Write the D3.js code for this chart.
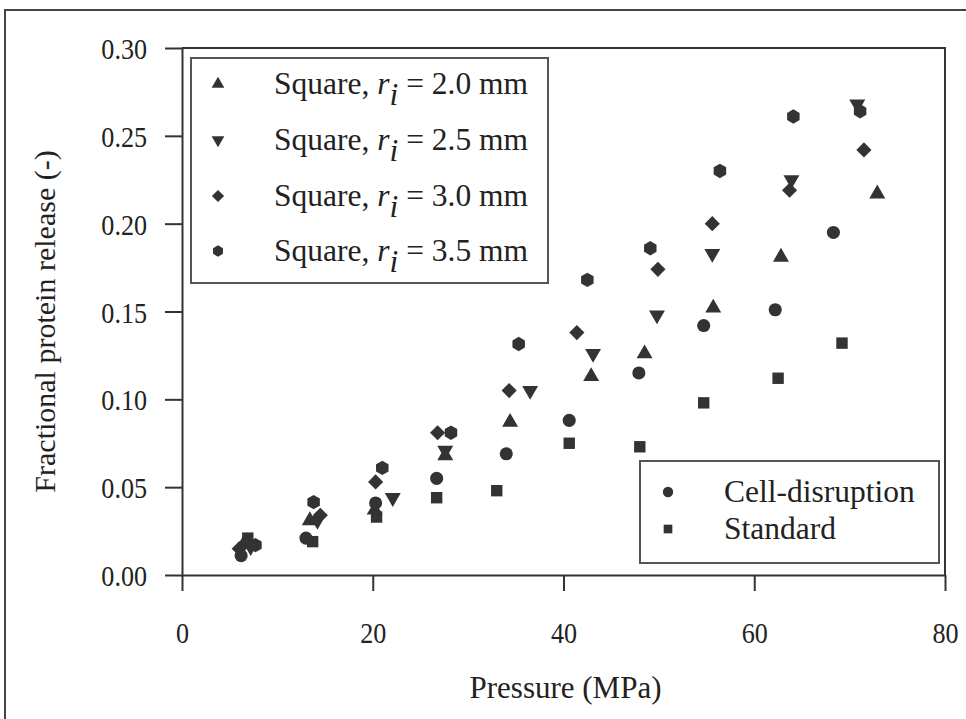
<!DOCTYPE html>
<html>
<head>
<meta charset="utf-8">
<script src="https://cdn.jsdelivr.net/npm/d3@7"></script>
<style>
  body { margin: 0; background: #fff; }
  svg { display: block; }
  text { font-family: "Liberation Serif", "Times New Roman", serif; fill: #222; }
</style>
</head>
<body>
<svg id="chart" width="966" height="719"></svg>
<script>
// pressure (MPa) at which each sample was taken, per series
const triUpX   = [6.5, 13.4, 20.2, 27.6, 34.4, 42.9, 48.5, 55.7, 62.8, 72.9];
const triUpY   = [0.018, 0.031, 0.037, 0.068, 0.087, 0.113, 0.126, 0.152, 0.181, 0.217];
const triDownX = [7.2, 14.2, 22.1, 27.6, 36.5, 43.1, 49.8, 55.6, 63.9, 70.8];
const triDownY = [0.016, 0.031, 0.044, 0.071, 0.105, 0.126, 0.148, 0.183, 0.225, 0.268];
const diamondX = [6.0, 14.5, 20.3, 26.8, 34.3, 41.4, 49.9, 55.6, 63.7, 71.5];
const diamondY = [0.015, 0.034, 0.053, 0.081, 0.105, 0.138, 0.174, 0.200, 0.219, 0.242];
const hexX     = [7.7, 13.8, 21.0, 28.2, 35.3, 42.5, 49.1, 56.4, 64.1, 71.1];
const hexY     = [0.017, 0.0415, 0.061, 0.081, 0.1315, 0.168, 0.186, 0.230, 0.261, 0.264];
const cellX    = [6.2, 13.0, 20.3, 26.7, 34.0, 40.6, 47.9, 54.7, 62.2, 68.3];
const cellY    = [0.011, 0.021, 0.041, 0.055, 0.069, 0.088, 0.115, 0.142, 0.151, 0.195];
const stdX     = [6.9, 13.7, 20.4, 26.7, 33.0, 40.6, 48.0, 54.7, 62.5, 69.2];
const stdY     = [0.021, 0.019, 0.033, 0.044, 0.048, 0.075, 0.073, 0.098, 0.112, 0.132];

const xTicks = [0, 20, 40, 60, 80];
const yTicks = [0, 0.05, 0.10, 0.15, 0.20, 0.25, 0.30];
const radii = ['2.0', '2.5', '3.0', '3.5'];
const otherLabels = ['Cell-disruption', 'Standard'];

const SERIF = '"Liberation Serif", "Times New Roman", serif';
const SQUEEZE = 0.87; // tick numbers in the original are a narrow, tall face

// custom symbol shapes, size = area
const triUp = { draw(c, s) {
  const a = Math.sqrt(s / (Math.sqrt(3) / 4)), h = a * Math.sqrt(3) / 2;
  c.moveTo(0, -h * 2 / 3); c.lineTo(a / 2, h / 3); c.lineTo(-a / 2, h / 3); c.closePath();
}};
const triDown = { draw(c, s) {
  const a = Math.sqrt(s / (Math.sqrt(3) / 4)), h = a * Math.sqrt(3) / 2;
  c.moveTo(0, h * 2 / 3); c.lineTo(a / 2, -h / 3); c.lineTo(-a / 2, -h / 3); c.closePath();
}};
const diamond = { draw(c, s) {
  const r = Math.sqrt(s / 2);
  c.moveTo(0, -r); c.lineTo(r, 0); c.lineTo(0, r); c.lineTo(-r, 0); c.closePath();
}};
const hexagon = { draw(c, s) {
  const r = Math.sqrt(s * 2 / (3 * Math.sqrt(3)));
  for (let i = 0; i < 6; i++) {
    const a = Math.PI / 3 * i - Math.PI / 2;
    if (i === 0) c.moveTo(r * Math.cos(a), r * Math.sin(a));
    else c.lineTo(r * Math.cos(a), r * Math.sin(a));
  }
  c.closePath();
}};

const series = [
  { xs: triUpX, ys: triUpY, type: triUp, size: 110, lsize: 70 },
  { xs: triDownX, ys: triDownY, type: triDown, size: 110, lsize: 70 },
  { xs: diamondX, ys: diamondY, type: diamond, size: 115, lsize: 75 },
  { xs: hexX, ys: hexY, type: hexagon, size: 135, lsize: 85 },
  { xs: cellX, ys: cellY, type: d3.symbolCircle, size: 135, lsize: 85 },
  { xs: stdX, ys: stdY, type: d3.symbolSquare, size: 130, lsize: 75 }
];

const svg = d3.select('#chart');
const MARK = '#333';

// outer frame
svg.append('rect')
  .attr('x', 5).attr('y', 10).attr('width', 980).attr('height', 730)
  .attr('fill', 'none').attr('stroke', '#444').attr('stroke-width', 2);

const x = d3.scaleLinear().domain([0, 80]).range([182, 945]);
const y = d3.scaleLinear().domain([0, 0.30]).range([575, 48]);

// plot box (top and right)
svg.append('path')
  .attr('d', `M${x(0)},${y(0.30)}H${x(80)}V${y(0)}`)
  .attr('fill', 'none').attr('stroke', '#333').attr('stroke-width', 2);

const gx = svg.append('g').attr('transform', `translate(0,${y(0)})`)
  .call(d3.axisBottom(x).tickValues(xTicks).tickSize(16).tickSizeOuter(0).tickFormat(d3.format('d')));
gx.selectAll('text').attr('x', 0).attr('y', 58).attr('dy', '0.35em')
  .attr('transform', `scale(${SQUEEZE},1)`);

const gy = svg.append('g').attr('transform', `translate(${x(0)},0)`)
  .call(d3.axisLeft(y).tickValues(yTicks).tickSize(17).tickSizeOuter(0).tickFormat(d3.format('.2f')));
gy.selectAll('text').attr('x', -35 / SQUEEZE).attr('dy', '0.35em')
  .attr('transform', `scale(${SQUEEZE},1)`);

[gx, gy].forEach(g => g.attr('font-family', SERIF).attr('font-size', 30));
svg.selectAll('.tick text').style('font-size', '30px');
svg.selectAll('.domain, .tick line').attr('stroke', '#333').attr('stroke-width', 2);
svg.selectAll('.tick text').attr('fill', '#222');

// axis titles
svg.append('text')
  .attr('x', (x(0) + x(80)) / 2 + 2).attr('y', 698)
  .attr('text-anchor', 'middle').style('font-size', '31px')
  .text('Pressure (MPa)');
svg.append('text')
  .attr('transform', `translate(55,${(y(0) + y(0.30)) / 2 + 10}) rotate(-90)`)
  .attr('text-anchor', 'middle').style('font-size', '30px')
  .text('Fractional protein release (-)');

// legend boxes
svg.append('rect').attr('x', 191).attr('y', 58).attr('width', 357).attr('height', 225)
  .attr('fill', '#fff').attr('stroke', '#555').attr('stroke-width', 2);
svg.append('rect').attr('x', 640).attr('y', 461).attr('width', 299).attr('height', 102)
  .attr('fill', '#fff').attr('stroke', '#555').attr('stroke-width', 2);

// data points
series.forEach(s => {
  const sym = d3.symbol().type(s.type).size(s.size);
  svg.append('g').selectAll('path').data(s.xs.map((v, i) => [v, s.ys[i]]))
    .enter().append('path')
    .attr('transform', d => `translate(${x(d[0])},${y(d[1])})`)
    .attr('d', sym)
    .attr('fill', MARK);
});

// legend 1
const rowY = [84, 140, 196, 251];
radii.forEach((r, i) => {
  const s = series[i];
  svg.append('path')
    .attr('transform', `translate(218,${rowY[i]})`)
    .attr('d', d3.symbol().type(s.type).size(s.lsize))
    .attr('fill', MARK);
  const t = svg.append('text').attr('x', 274).attr('y', rowY[i] + 10).style('font-size', '31.5px');
  t.append('tspan').text('Square, ');
  t.append('tspan').style('font-style', 'italic').text('r');
  t.append('tspan').style('font-style', 'italic').attr('dy', 11).text('i');
  t.append('tspan').attr('dy', -11).text(` = ${r} mm`);
});

// legend 2
const row2Y = [492, 529];
otherLabels.forEach((lab, i) => {
  const s = series[4 + i];
  svg.append('path')
    .attr('transform', `translate(668,${row2Y[i]})`)
    .attr('d', d3.symbol().type(s.type).size(s.lsize))
    .attr('fill', MARK);
  svg.append('text').attr('x', 724).attr('y', row2Y[i] + 10).style('font-size', '31.5px').text(lab);
});
</script>
</body>
</html>
